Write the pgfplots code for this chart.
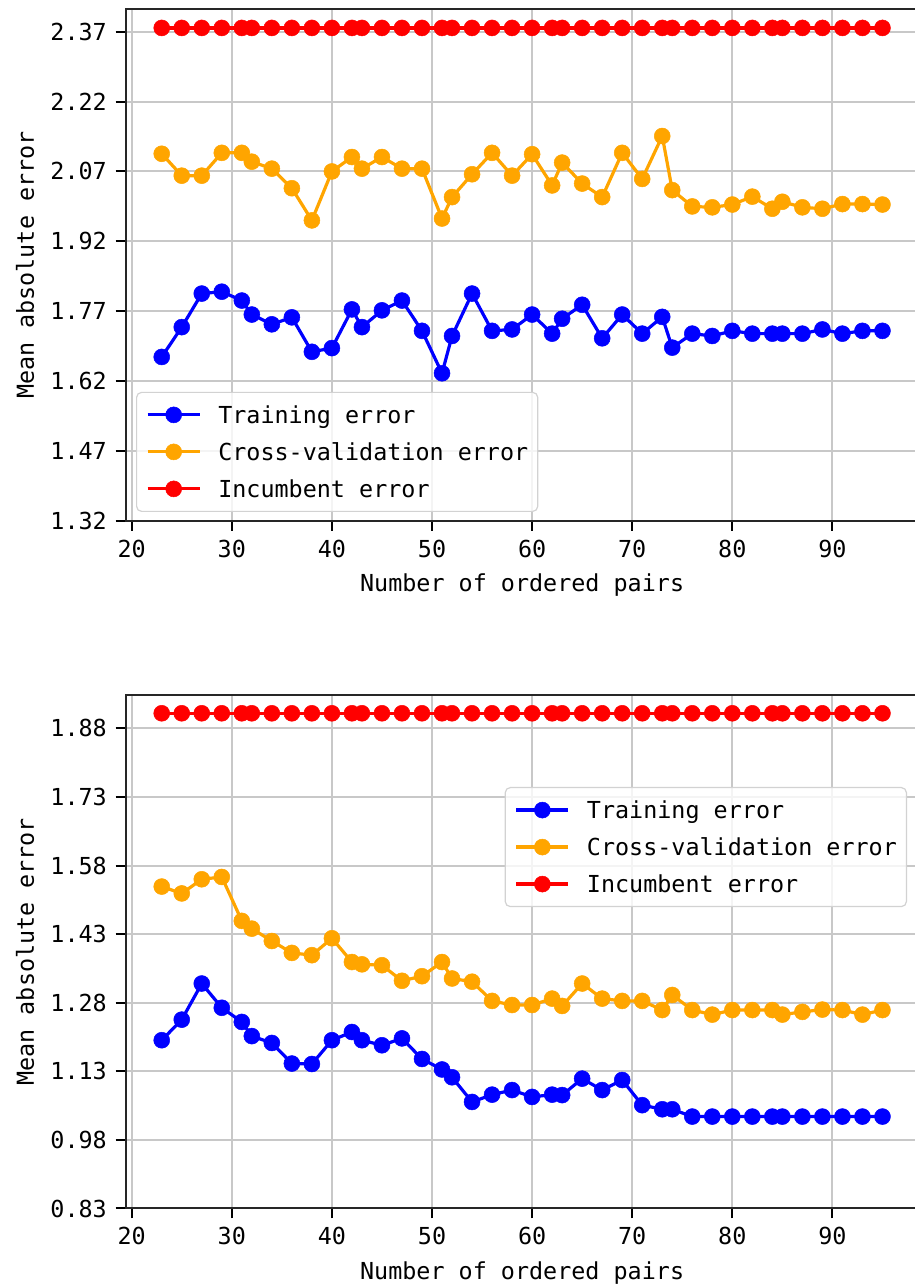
\documentclass[border=0pt]{standalone}
\usepackage{fontspec}
\setmainfont{DejaVu Sans Mono}
\usepackage{pgfplots}
\usepackage{pgfplotstable}
\pgfplotsset{compat=1.18}

\definecolor{cvorange}{RGB}{255,165,0}
\definecolor{gridgray}{RGB}{200,200,200}
\definecolor{legframe}{RGB}{210,210,210}
\newcommand{\lblfont}{\fontsize{23.4pt}{28pt}\selectfont}

% error curves, first data set
\pgfplotstableread{
x  train  cv     inc
23 1.672  2.108  2.378
25 1.736  2.061  2.378
27 1.808  2.061  2.378
29 1.812  2.110  2.378
31 1.793  2.110  2.378
32 1.763  2.091  2.378
34 1.742  2.076  2.378
36 1.757  2.034  2.378
38 1.683  1.965  2.378
40 1.691  2.070  2.378
42 1.774  2.101  2.378
43 1.736  2.076  2.378
45 1.772  2.101  2.378
47 1.793  2.076  2.378
49 1.728  2.076  2.378
51 1.637  1.969  2.378
52 1.717  2.015  2.378
54 1.808  2.064  2.378
56 1.728  2.110  2.378
58 1.731  2.061  2.378
60 1.763  2.107  2.378
62 1.722  2.040  2.378
63 1.754  2.089  2.378
65 1.784  2.044  2.378
67 1.712  2.015  2.378
69 1.763  2.110  2.378
71 1.722  2.054  2.378
73 1.758  2.146  2.378
74 1.692  2.030  2.378
76 1.722  1.995  2.378
78 1.717  1.993  2.378
80 1.728  1.999  2.378
82 1.722  2.016  2.378
84 1.722  1.990  2.378
85 1.722  2.005  2.378
87 1.722  1.993  2.378
89 1.731  1.990  2.378
91 1.722  2.000  2.378
93 1.728  2.000  2.378
95 1.728  1.999  2.378
}\topdata

% error curves, second data set
\pgfplotstableread{
x  train  cv     inc
23 1.198  1.534  1.913
25 1.243  1.519  1.913
27 1.322  1.550  1.913
29 1.269  1.555  1.913
31 1.238  1.459  1.913
32 1.207  1.442  1.913
34 1.192  1.415  1.913
36 1.147  1.389  1.913
38 1.146  1.384  1.913
40 1.198  1.421  1.913
42 1.216  1.369  1.913
43 1.198  1.364  1.913
45 1.187  1.362  1.913
47 1.202  1.328  1.913
49 1.157  1.338  1.913
51 1.134  1.369  1.913
52 1.117  1.333  1.913
54 1.063  1.326  1.913
56 1.079  1.284  1.913
58 1.089  1.275  1.913
60 1.074  1.275  1.913
62 1.079  1.289  1.913
63 1.078  1.273  1.913
65 1.114  1.322  1.913
67 1.089  1.289  1.913
69 1.111  1.284  1.913
71 1.056  1.284  1.913
73 1.047  1.264  1.913
74 1.047  1.297  1.913
76 1.031  1.264  1.913
78 1.031  1.254  1.913
80 1.031  1.264  1.913
82 1.031  1.264  1.913
84 1.031  1.264  1.913
85 1.031  1.254  1.913
87 1.031  1.260  1.913
89 1.031  1.265  1.913
91 1.031  1.264  1.913
93 1.031  1.254  1.913
95 1.031  1.264  1.913
}\bottomdata

\pgfplotsset{
  series/.style={color=#1, line width=3.2pt, mark=*, mark size=8pt,
    mark options={solid, line width=0.5pt, draw=#1, fill=#1},
    fill opacity=1, draw opacity=1},
  errpanel/.style={
    scale only axis, width=792.8pt, anchor=south west,
    xmin=19.4, xmax=98.6,
    xtick={20,30,...,90}, xticklabels={20,30,40,50,60,70,80,90},
    tick pos=left, tick align=outside, major tick length=10pt,
    tick style={black, line width=2pt},
    axis line style={black!85, line width=2pt},
    grid=major, grid style={gridgray, line width=2pt},
    ticklabel style={font=\lblfont, inner sep=0pt},
    xticklabel style={anchor=base, yshift=-26.5pt},
    yticklabel style={anchor=east, xshift=-8.7pt},
    xlabel={Number of ordered pairs}, ylabel={Mean absolute error},
    every axis x label/.style={at={(axis description cs:0.5,0)}, anchor=base,
      yshift=-71pt, font=\lblfont},
    every axis y label/.style={at={(axis description cs:0,0.5)},
      xshift=-100.7pt, rotate=90, anchor=center, font=\lblfont},
    legend cell align=left,
    legend image code/.code={\draw[mark repeat=2,mark phase=2,##1]
      plot coordinates {(0pt,0pt) (26pt,0pt) (52pt,0pt)};},
    legend style={draw=legframe, line width=1.2pt, rounded corners=5pt,
      fill=white, fill opacity=0.8, text opacity=1,
      inner xsep=9.5pt, inner ysep=14pt, font=\lblfont, row sep=20pt,
      nodes={inner sep=0pt, text height=17pt, text depth=0pt},
      /tikz/every odd column/.append style={column sep=17pt}},
  },
}

\begin{document}
\begin{tikzpicture}[x=1pt,y=1pt]
\begin{axis}[errpanel, at={(125.7pt,766pt)}, height=511.7pt,
    ymin=1.32, ymax=2.418,
    ytick={1.32,1.47,1.62,1.77,1.92,2.07,2.22,2.37},
    yticklabels={1.32,1.47,1.62,1.77,1.92,2.07,2.22,2.37},
    legend style={at={(axis description cs:0,0)}, anchor=south west,
      xshift=10.3pt, yshift=9pt}]
  \addplot[series=blue] table[x=x, y=train] {\topdata};
  \addplot[series=cvorange] table[x=x, y=cv] {\topdata};
  \addplot[series=red] table[x=x, y=inc] {\topdata};
  \legend{Training error, Cross-validation error, Incumbent error}
\end{axis}
\begin{axis}[errpanel, at={(125.7pt,78.5pt)}, height=513.5pt,
    ymin=0.83, ymax=1.953,
    ytick={0.83,0.98,1.13,1.28,1.43,1.58,1.73,1.88},
    yticklabels={0.83,0.98,1.13,1.28,1.43,1.58,1.73,1.88},
    legend style={at={(axis description cs:1,1)}, anchor=north east,
      xshift=-11.5pt, yshift=-92pt}]
  \addplot[series=blue] table[x=x, y=train] {\bottomdata};
  \addplot[series=cvorange] table[x=x, y=cv] {\bottomdata};
  \addplot[series=red] table[x=x, y=inc] {\bottomdata};
  \legend{Training error, Cross-validation error, Incumbent error}
\end{axis}
\pgfresetboundingbox
\path[use as bounding box] (0,0) rectangle (915,1287);
\end{tikzpicture}
\end{document}
